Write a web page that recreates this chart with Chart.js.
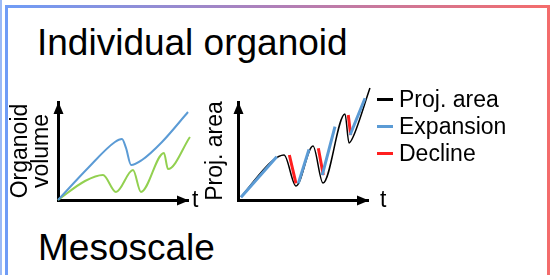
<!DOCTYPE html>
<html lang="en">
<head>
    <meta charset="UTF-8">
    <title>Individual organoid</title>
    <style>
        body {
            margin: 0;
            width: 551px;
            height: 275px;
            overflow: hidden;
            background-color: #fff;
            font-family: Arial, "Liberation Sans", sans-serif;
            color: #000;
            position: relative;
        }
        .edge {
            position: absolute;
            left: 0;
            top: 0;
            width: 2px;
            height: 275px;
            background-color: #9bbaf6;
        }
        .frame {
            position: absolute;
            left: 5px;
            top: 5px;
            width: 539px;
            height: 320px;
            border: 3px solid;
            border-image: linear-gradient(to right, #6f9cf6, #b07fb8, #f46c6c) 1;
        }
        .heading {
            position: absolute;
            font-size: 37px;
            line-height: 37px;
            white-space: nowrap;
        }
        .box {
            position: absolute;
            top: 80px;
            width: 215px;
            height: 135px;
        }
        #legend {
            position: absolute;
            left: 377px;
            top: 86px;
            font-size: 23px;
        }
        .item {
            display: flex;
            align-items: center;
            height: 27px;
            white-space: nowrap;
        }
        .mark {
            display: inline-block;
            width: 16px;
            height: 3px;
            margin-right: 6px;
        }
    </style>
</head>
<body>
    <div class="edge"></div>
    <div class="frame"></div>
    <div class="heading" style="left:37px; top:24px;">Individual organoid</div>
    <div class="heading" style="left:38px; top:229px;">Mesoscale</div>

    <div class="box" style="left:0px;"><canvas id="volumeChart" width="215" height="135"></canvas></div>
    <div class="box" style="left:180px;"><canvas id="areaChart" width="215" height="135"></canvas></div>
    <div id="legend"></div>

    <script src="https://cdn.jsdelivr.net/npm/chart.js"></script>
    <script>
        // left sketch: organoid volume over time (two organoids)
        const volumeBlueT = [0, 23.1, 43.8, 49.2, 52.3, 56.2, 64.6, 80, 100];
        const volumeBlueV = [0, 32.7, 59.2, 62.2, 53.1, 35.7, 40.8, 59.2, 89.8];
        const volumeGreenT = [0, 20.8, 34.6, 44.6, 57.7, 63.8, 81.5, 84.6, 101.5];
        const volumeGreenV = [0, 19.4, 25.5, 8.2, 30.6, 8.2, 48.0, 31.6, 64.3];

        // right sketch: projected area, with expansion / decline segments (null = gap)
        const areaT = [2.3, 26.2, 35.4, 44.6, 57.7, 65.4, 82.3, 85.4, 88.5, 101.5];
        const areaV = [3.1, 39.8, 45.9, 14.3, 55.1, 17.3, 87.8, 58.2, 64.3, 114.3];
        const expansionT = [2.3, 29.8, 30, 46.4, 54.6, 55, 64.8, 74.6, 75, 86.2, 97.7];
        const expansionV = [2.8, 44.2, null, 17.0, 51.7, null, 25.5, 74.8, null, 66.3, 103.8];
        const declineT = [39.5, 44.6, 45, 61.8, 65.6, 66, 84.8, 86.7];
        const declineV = [45.9, 17.0, null, 52.8, 25.5, null, 86.7, 66.3];

        const legendLabels = ['Proj. area', 'Expansion', 'Decline'];
        const colors = { blue: '#5b9bd5', green: '#92d050', red: '#ff1f1f', black: '#000000' };

        function toPoints(xs, ys) {
            return xs.map((x, i) => ({ x: x, y: ys[i] }));
        }

        // arrow heads on both axes and the "t" label
        const axisArrows = {
            id: 'axisArrows',
            afterDraw(chart, args, opts) {
                const ctx = chart.ctx;
                const a = chart.chartArea;
                const x0 = a.left + 0.5;
                const y0 = a.bottom + 0.5;
                ctx.save();
                ctx.fillStyle = '#000';
                ctx.beginPath();
                ctx.moveTo(x0, a.top);
                ctx.lineTo(x0 - 5, a.top + 12);
                ctx.lineTo(x0 + 5, a.top + 12);
                ctx.closePath();
                ctx.fill();
                ctx.beginPath();
                ctx.moveTo(a.right + 1, y0);
                ctx.lineTo(a.right - 11, y0 - 5);
                ctx.lineTo(a.right - 11, y0 + 5);
                ctx.closePath();
                ctx.fill();
                ctx.font = '23px Arial';
                ctx.textBaseline = 'middle';
                ctx.textAlign = 'left';
                ctx.fillText('t', a.right + opts.gap, y0);
                ctx.restore();
            }
        };

        function sketchOptions(titleText, padLeft, yWidth, gap) {
            return {
                responsive: false,
                animation: false,
                layout: { padding: { left: padLeft, top: 22, right: 27, bottom: 15 } },
                elements: { point: { radius: 0 } },
                plugins: {
                    legend: { display: false },
                    tooltip: { enabled: false },
                    axisArrows: { gap: gap }
                },
                scales: {
                    x: {
                        type: 'linear',
                        min: 0,
                        max: 100,
                        ticks: { display: false },
                        grid: { display: false },
                        border: { display: true, width: 3, color: '#000' },
                        afterFit: function (s) { s.height = 0; }
                    },
                    y: {
                        min: 0,
                        max: 100,
                        ticks: { display: false },
                        grid: { display: false },
                        border: { display: true, width: 3, color: '#000' },
                        title: {
                            display: true,
                            text: titleText,
                            color: '#000',
                            padding: 0,
                            font: { family: 'Arial', size: 23, lineHeight: 0.92 }
                        },
                        afterFit: function (s) { s.width = yWidth; }
                    }
                }
            };
        }

        new Chart(document.getElementById('volumeChart'), {
            type: 'line',
            data: {
                datasets: [
                    {
                        data: toPoints(volumeBlueT, volumeBlueV),
                        borderColor: colors.blue,
                        borderWidth: 2,
                        cubicInterpolationMode: 'monotone',
                        clip: false
                    },
                    {
                        data: toPoints(volumeGreenT, volumeGreenV),
                        borderColor: colors.green,
                        borderWidth: 2,
                        cubicInterpolationMode: 'monotone',
                        clip: false
                    }
                ]
            },
            options: sketchOptions(['Organoid', 'volume'], 10, 48, 4),
            plugins: [axisArrows]
        });

        const areaChart = new Chart(document.getElementById('areaChart'), {
            type: 'line',
            data: {
                datasets: [
                    {
                        label: legendLabels[0],
                        data: toPoints(areaT, areaV),
                        borderColor: colors.black,
                        borderWidth: 1.5,
                        cubicInterpolationMode: 'monotone',
                        clip: false,
                        order: 3
                    },
                    {
                        label: legendLabels[1],
                        data: toPoints(expansionT, expansionV),
                        borderColor: colors.blue,
                        borderWidth: 3,
                        tension: 0,
                        clip: false,
                        order: 1
                    },
                    {
                        label: legendLabels[2],
                        data: toPoints(declineT, declineV),
                        borderColor: colors.red,
                        borderWidth: 3,
                        tension: 0,
                        clip: false,
                        order: 2
                    }
                ]
            },
            options: sketchOptions('Proj. area', 25, 33, 12),
            plugins: [axisArrows]
        });

        // legend built from the datasets
        const legendDiv = document.getElementById('legend');
        areaChart.data.datasets.forEach(ds => {
            const row = document.createElement('div');
            row.className = 'item';
            row.innerHTML = '<span class="mark" style="background:' + ds.borderColor + '"></span>' + ds.label;
            legendDiv.appendChild(row);
        });
    </script>
</body>
</html>
